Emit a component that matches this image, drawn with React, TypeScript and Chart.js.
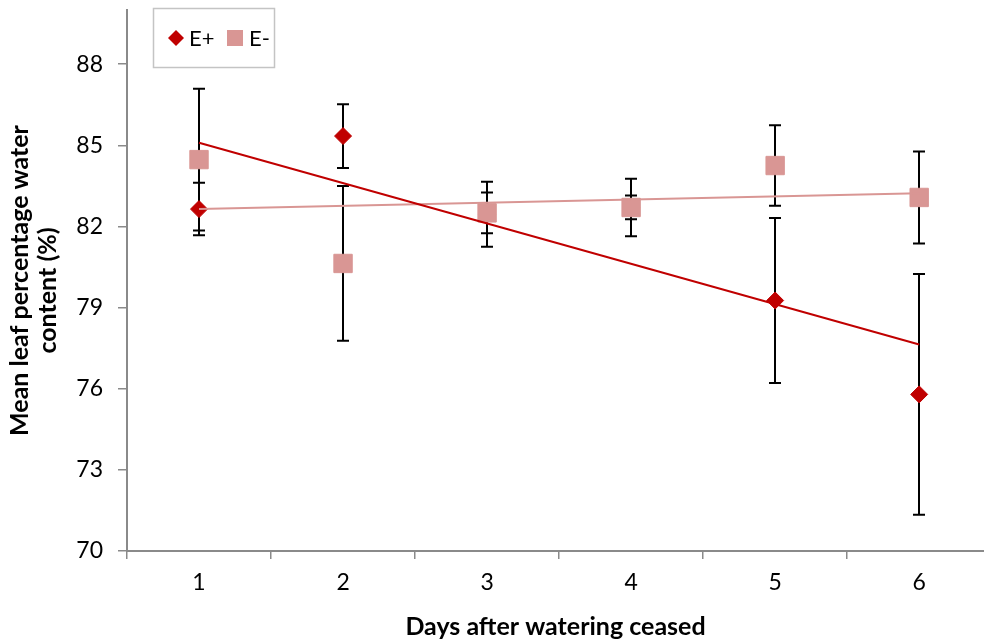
import React, { useEffect, useRef } from 'react';
import { Chart, registerables } from 'chart.js';

Chart.register(...registerables);

const seriesNames = ['E+', 'E-'];
const days = [1, 2, 3, 4, 5, 6];
const ePlusMean = [82.64, 85.34, 82.45, 82.7, 79.26, 75.79];
const ePlusErr = [0.97, 1.18, 1.2, 1.06, 3.05, 4.45];
const eMinusMean = [84.47, 80.63, 82.5, 82.7, 84.25, 83.07];
const eMinusErr = [2.62, 2.86, 0.75, 0.44, 1.49, 1.7];
const yTicks = [70, 73, 76, 79, 82, 85, 88];
const xTitle = 'Days after watering ceased';
const yTitle = ['Mean leaf percentage water', 'content (%)'];

const RED = '#C00000';
const PINK = '#D99694';
const AXIS = '#8a8a8a';
const FONT = 'Lato, "Open Sans", sans-serif';

function linFit(xs: number[], ys: number[]) {
  const n = xs.length;
  const mx = xs.reduce((a, b) => a + b, 0) / n;
  const my = ys.reduce((a, b) => a + b, 0) / n;
  let sxy = 0;
  let sxx = 0;
  for (let i = 0; i < n; i++) {
    sxy += (xs[i] - mx) * (ys[i] - my);
    sxx += (xs[i] - mx) * (xs[i] - mx);
  }
  const b = sxy / sxx;
  const a = my - b * mx;
  return [
    { x: xs[0], y: a + b * xs[0] },
    { x: xs[n - 1], y: a + b * xs[n - 1] },
  ];
}

const errPlugin = {
  id: 'errBars',
  beforeDatasetsDraw(chart: any) {
    const { ctx, scales } = chart;
    const x = scales.x;
    const y = scales.y;
    ctx.save();
    ctx.strokeStyle = '#000';
    ctx.lineWidth = 2;
    const sets: [number[], number[]][] = [
      [ePlusMean, ePlusErr],
      [eMinusMean, eMinusErr],
    ];
    sets.forEach(([m, e]) => {
      days.forEach((d, i) => {
        const px = Math.round(x.getPixelForValue(d));
        const top = y.getPixelForValue(m[i] + e[i]);
        const bot = y.getPixelForValue(m[i] - e[i]);
        ctx.beginPath();
        ctx.moveTo(px, top);
        ctx.lineTo(px, bot);
        ctx.moveTo(px - 6, top);
        ctx.lineTo(px + 6, top);
        ctx.moveTo(px - 6, bot);
        ctx.lineTo(px + 6, bot);
        ctx.stroke();
      });
    });
    ctx.restore();
  },
};

const yTitlePlugin = {
  id: 'yTitleTwoLines',
  afterDraw(chart: any) {
    const ctx = chart.ctx;
    const area = chart.chartArea;
    const cy = (area.top + area.bottom) / 2;
    ctx.save();
    ctx.fillStyle = '#000';
    ctx.font = 'bold 25px ' + FONT;
    ctx.textAlign = 'center';
    ctx.textBaseline = 'middle';
    ctx.translate(20, cy);
    ctx.rotate(-Math.PI / 2);
    ctx.fillText(yTitle[0], 0, 0);
    ctx.fillText(yTitle[1], -10, 28);
    ctx.restore();
  },
};

const legendPlugin = {
  id: 'boxLegend',
  afterDraw(chart: any) {
    const ctx = chart.ctx;
    ctx.save();
    ctx.fillStyle = '#fff';
    ctx.fillRect(153.5, 8.5, 121, 59);
    ctx.strokeStyle = '#c4c4c4';
    ctx.lineWidth = 1.5;
    ctx.strokeRect(153.5, 8.5, 121, 59);
    ctx.fillStyle = RED;
    ctx.beginPath();
    ctx.moveTo(168, 38);
    ctx.lineTo(176, 30);
    ctx.lineTo(184, 38);
    ctx.lineTo(176, 46);
    ctx.closePath();
    ctx.fill();
    ctx.fillStyle = '#000';
    ctx.font = '22px ' + FONT;
    ctx.textBaseline = 'middle';
    ctx.textAlign = 'left';
    ctx.fillText(seriesNames[0], 189, 39);
    ctx.fillStyle = PINK;
    ctx.fillRect(227, 30, 16, 16);
    ctx.fillStyle = '#000';
    ctx.fillText(seriesNames[1], 249, 39);
    ctx.restore();
  },
};

export default function App() {
  const ref = useRef<HTMLCanvasElement>(null);
  useEffect(() => {
    if (!ref.current) return;
    const chart = new Chart(ref.current, {
      type: 'scatter',
      data: {
        datasets: [
          {
            label: 'E+ trend',
            data: linFit(days, ePlusMean),
            showLine: true,
            borderColor: RED,
            borderWidth: 2,
            pointRadius: 0,
            order: 0,
          },
          {
            label: 'E- trend',
            data: linFit(days, eMinusMean),
            showLine: true,
            borderColor: PINK,
            borderWidth: 2,
            pointRadius: 0,
            order: 1,
          },
          {
            label: seriesNames[1],
            data: days.map((d, i) => ({ x: d, y: eMinusMean[i] })),
            pointStyle: 'rect',
            pointRadius: 13,
            backgroundColor: PINK,
            borderColor: PINK,
            borderWidth: 1,
            order: 2,
          },
          {
            label: seriesNames[0],
            data: days.map((d, i) => ({ x: d, y: ePlusMean[i] })),
            pointStyle: 'rectRot',
            pointRadius: 8.5,
            backgroundColor: RED,
            borderColor: RED,
            borderWidth: 1,
            order: 3,
          },
        ],
      },
      options: {
        responsive: false,
        animation: false,
        layout: { autoPadding: false, padding: { top: 10, left: 0, right: 0, bottom: 0 } },
        plugins: {
          legend: { display: false },
          tooltip: { enabled: false },
        },
        scales: {
          x: {
            type: 'linear',
            min: 0.5,
            max: 6.45,
            afterBuildTicks: (s: any) => {
              s.ticks = days.map((v) => ({ value: v }));
            },
            afterFit: (s: any) => {
              s.height = 92;
              s.paddingLeft = 0;
              s.paddingRight = 0;
            },
            grid: {
              offset: true,
              drawOnChartArea: false,
              drawTicks: true,
              tickLength: 8,
              color: AXIS,
              lineWidth: 1.5,
            },
            border: { display: true, color: AXIS, width: 2 },
            ticks: {
              font: { family: FONT, size: 23 },
              color: '#000',
              padding: 10,
              callback: (v: any) => String(v),
            },
            title: {
              display: true,
              text: xTitle,
              font: { family: FONT, size: 25, weight: 'bold' },
              color: '#000',
              padding: { top: 0, bottom: 1 },
            },
          },
          y: {
            min: 70,
            max: 90,
            afterBuildTicks: (s: any) => {
              s.ticks = yTicks.map((v) => ({ value: v }));
            },
            afterFit: (s: any) => {
              s.width = 127;
              s.paddingTop = 0;
              s.paddingBottom = 0;
            },
            grid: {
              drawOnChartArea: false,
              drawTicks: true,
              tickLength: 9,
              color: AXIS,
              lineWidth: 1.5,
            },
            border: { display: true, color: AXIS, width: 2 },
            ticks: {
              font: { family: FONT, size: 23 },
              color: '#000',
              padding: 15,
            },
            title: { display: false },
          },
        },
      },
      plugins: [errPlugin, legendPlugin, yTitlePlugin],
    });
    return () => chart.destroy();
  }, []);
  return (
    <div style={{ position: 'fixed', left: 0, top: 0, width: 984, height: 643, background: '#fff' }}>
      <canvas ref={ref} width={984} height={643} style={{ display: 'block' }} />
    </div>
  );
}
